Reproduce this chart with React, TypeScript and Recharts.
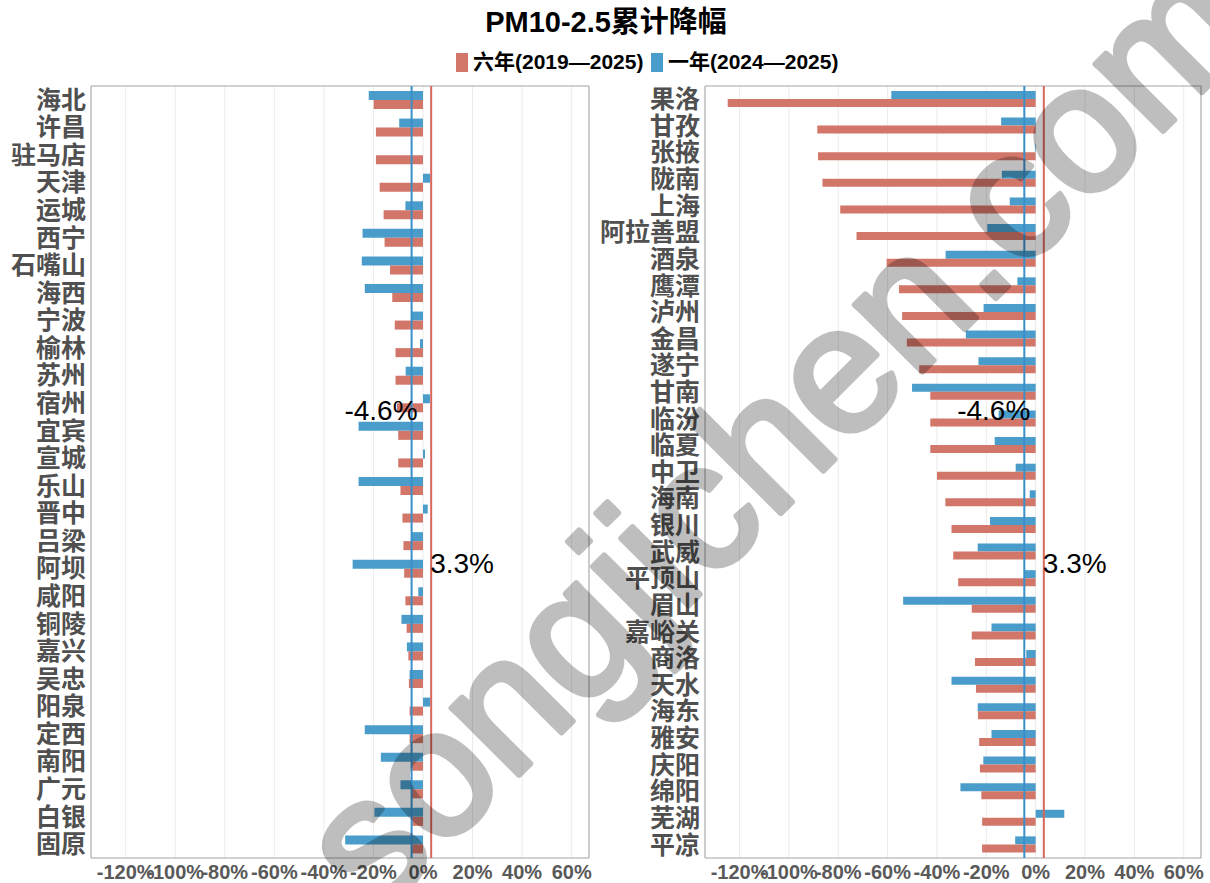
import React from 'react';
import {
  BarChart,
  Bar,
  XAxis,
  YAxis,
  CartesianGrid,
  ReferenceLine,
  ReferenceArea,
} from 'recharts';

// left panel
const leftCities = [
  '海北', '许昌', '驻马店', '天津', '运城', '西宁', '石嘴山', '海西', '宁波', '榆林',
  '苏州', '宿州', '宜宾', '宣城', '乐山', '晋中', '吕梁', '阿坝', '咸阳', '铜陵',
  '嘉兴', '吴忠', '阳泉', '定西', '南阳', '广元', '白银', '固原',
];
const leftSixYear = [
  -19.9, -19.0, -19.0, -17.5, -15.9, -15.5, -13.3, -12.4, -11.4, -11.1,
  -11.1, -10.5, -10.0, -10.0, -9.1, -8.3, -7.9, -7.6, -7.1, -6.6,
  -5.9, -5.7, -5.4, -5.4, -4.5, -4.5, -4.3, -4.3,
];
const leftOneYear = [
  -21.9, -9.6, 0, 2.9, -7.1, -24.4, -24.7, -23.5, -4.6, -1.2,
  -7.0, 2.8, -26.0, 0.8, -26.0, 1.9, -4.6, -28.4, -1.9, -8.7,
  -6.5, -5.4, 2.9, -23.5, -17.0, -9.1, -19.6, -31.4,
];

// right panel
const rightCities = [
  '果洛', '甘孜', '张掖', '陇南', '上海', '阿拉善盟', '酒泉', '鹰潭', '泸州', '金昌',
  '遂宁', '甘南', '临汾', '临夏', '中卫', '海南', '银川', '武威', '平顶山', '眉山',
  '嘉峪关', '商洛', '天水', '海东', '雅安', '庆阳', '绵阳', '芜湖', '平凉',
];
const rightSixYear = [
  -124.8, -88.5, -88.2, -86.4, -79.2, -72.6, -60.4, -55.4, -54.1, -52.2,
  -47.2, -42.7, -42.7, -42.7, -40.0, -36.6, -34.1, -33.4, -31.4, -25.9,
  -25.9, -24.6, -24.2, -23.4, -22.9, -22.6, -22.0, -21.7, -21.7,
];
const rightOneYear = [
  -58.5, -14.0, -0.3, -13.7, -10.5, -19.6, -36.5, -7.4, -21.1, -28.3,
  -23.2, -50.1, -15.0, -16.6, -8.1, -2.4, -18.5, -23.5, -4.7, -53.7,
  -17.9, -3.8, -34.1, -23.5, -17.9, -21.2, -30.5, 11.6, -8.3,
];

const xTicks = [-120, -100, -80, -60, -40, -20, 0, 20, 40, 60];
const oneYearAvg = -4.6;
const sixYearAvg = 3.3;

const RED = '#d2766a';
const BLUE = '#4a9dcb';
const LATIN = "'Liberation Sans', Arial, sans-serif";
const CJK = "'Noto Sans CJK SC', sans-serif";
const MIXED = "'Liberation Sans', Arial, 'Noto Sans CJK SC', sans-serif";

const lineLabel = (text: string, anchor: 'start' | 'end', dx: number, frac: number) =>
  (props: any) => {
    const vb = props.viewBox || {};
    const x = (vb.x || 0) + dx;
    const y = (vb.y || 0) + (vb.height || 0) * frac + 10;
    return (
      <text x={x} y={y} textAnchor={anchor} fontSize={28} fontFamily={LATIN} fill="#000">
        {text}
      </text>
    );
  };

interface PanelProps {
  cities: string[];
  six: number[];
  one: number[];
  left: number;
  width: number;
  yWidth: number;
  marginRight: number;
  barSize: number;
}

const Panel = ({ cities, six, one, left, width, yWidth, marginRight, barSize }: PanelProps) => {
  const data = cities.map((city, i) => ({ city, six: six[i], one: one[i] }));
  return (
    <div style={{ position: 'absolute', left, top: 0 }}>
      <BarChart
        width={width}
        height={883}
        data={data}
        layout="vertical"
        barGap={0}
        margin={{ top: 86, right: marginRight, bottom: 0, left: 0 }}
      >
        <CartesianGrid horizontal={false} stroke="#ebebeb" />
        <XAxis
          type="number"
          domain={[-134, 67]}
          ticks={xTicks}
          interval={0}
          allowDataOverflow
          height={25}
          axisLine={false}
          tickLine={false}
          tickSize={0}
          tickMargin={7}
          tickFormatter={(v: number) => `${v}%`}
          tick={{ fontSize: 20, fontWeight: 700, fill: '#595959', fontFamily: LATIN }}
        />
        <YAxis
          type="category"
          dataKey="city"
          width={yWidth}
          interval={0}
          axisLine={false}
          tickLine={false}
          tickSize={0}
          tickMargin={5}
          tick={{ fontSize: 25, fontWeight: 700, fill: '#505050', fontFamily: CJK }}
        />
        <ReferenceArea x1={-134} x2={67} fill="none" stroke="#a3a3a3" strokeWidth={1} />
        <Bar dataKey="one" fill={BLUE} barSize={barSize} isAnimationActive={false} />
        <Bar dataKey="six" fill={RED} barSize={barSize} isAnimationActive={false} />
        <ReferenceLine
          x={oneYearAvg}
          stroke="#3a8fc9"
          strokeWidth={2}
          label={lineLabel('-4.6%', 'end', 6, 0.42)}
        />
        <ReferenceLine
          x={sixYearAvg}
          stroke="#d8675a"
          strokeWidth={2}
          label={lineLabel('3.3%', 'start', -1, 0.618)}
        />
      </BarChart>
    </div>
  );
};

const LegendItem = ({ color, text, left }: { color: string; text: string; left: number }) => (
  <div
    style={{
      position: 'absolute',
      left,
      top: 51,
      display: 'flex',
      alignItems: 'center',
      fontSize: 21,
      lineHeight: '22px',
      fontWeight: 700,
      fontFamily: MIXED,
      color: '#000',
      whiteSpace: 'nowrap',
    }}
  >
    <span style={{ width: 12, height: 19, background: color, display: 'inline-block', marginRight: 5 }} />
    <span>{text}</span>
  </div>
);

export default function App() {
  return (
    <div
      style={{
        position: 'absolute',
        left: 0,
        top: 0,
        width: 1210,
        height: 883,
        background: '#fff',
        overflow: 'hidden',
      }}
    >
      <div
        style={{
          position: 'absolute',
          top: 5,
          left: 0,
          width: 1212,
          textAlign: 'center',
          fontSize: 29,
          lineHeight: '34px',
          fontWeight: 700,
          fontFamily: MIXED,
          color: '#000',
        }}
      >
        PM10-2.5累计降幅
      </div>
      <LegendItem color={RED} text="六年(2019—2025)" left={456} />
      <LegendItem color={BLUE} text="一年(2024—2025)" left={651} />
      <Panel
        cities={leftCities}
        six={leftSixYear}
        one={leftOneYear}
        left={0}
        width={600}
        yWidth={91}
        marginRight={11}
        barSize={9}
      />
      <Panel
        cities={rightCities}
        six={rightSixYear}
        one={rightOneYear}
        left={600}
        width={610}
        yWidth={105}
        marginRight={9}
        barSize={8}
      />
      <svg
        width={1210}
        height={883}
        style={{ position: 'absolute', left: 0, top: 0, pointerEvents: 'none' }}
      >
        <g opacity={0.25}>
          <text
            x={818}
            y={476}
            transform="rotate(-45 818 476)"
            textAnchor="middle"
            fontSize={180}
            fontFamily={LATIN}
            fill="#000"
            stroke="#000"
            strokeWidth={6}
            strokeLinejoin="round"
          >
            songjichen.com
          </text>
        </g>
      </svg>
    </div>
  );
}
